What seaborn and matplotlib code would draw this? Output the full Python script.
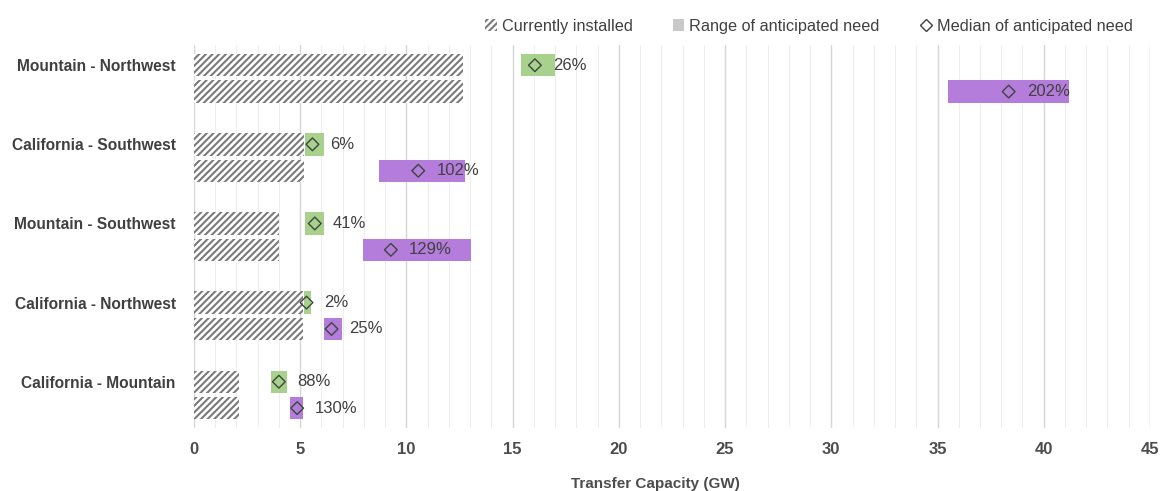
import numpy as np
import pandas as pd
import matplotlib
matplotlib.use('Agg')
import matplotlib.pyplot as plt
from matplotlib.patches import Patch
from matplotlib.lines import Line2D
import seaborn as sns


regions = [
	'Mountain - Northwest',
	'California - Southwest',
	'Mountain - Southwest',
	'California - Northwest',
	'California - Mountain',
]
installed = [12.66, 5.2, 4.0, 5.15, 2.12]

# first scenario (green) and second scenario (purple) of anticipated need
green_low = [15.4, 5.22, 5.24, 5.18, 3.61]
green_high = [17.0, 6.12, 6.12, 5.49, 4.39]
green_median = [16.05, 5.58, 5.69, 5.3, 4.0]
green_pct = ['26%', '6%', '41%', '2%', '88%']

purple_low = [35.5, 8.7, 7.97, 6.13, 4.52]
purple_high = [41.2, 12.78, 13.03, 6.95, 5.15]
purple_median = [38.35, 10.56, 9.27, 6.48, 4.86]
purple_pct = ['202%', '102%', '129%', '25%', '130%']

xticks = [0, 5, 10, 15, 20, 25, 30, 35, 40, 45]


sns.set_style('white')
plt.rcParams['font.family'] = ['Liberation Sans', 'DejaVu Sans']
plt.rcParams['hatch.linewidth'] = 1.5

GREEN = '#a9d18e'
PURPLE = '#b57ddb'
HATCH = '#7a7a7a'
TEXT = '#404040'

# row positions: each region gets two rows, groups spaced 3 apart
top_rows = [3 * i for i in range(len(regions))]
bot_rows = [3 * i + 1 for i in range(len(regions))]

bars = pd.DataFrame({
	'row': top_rows + bot_rows,
	'installed': installed + installed,
})
need = pd.DataFrame({
	'row': top_rows + bot_rows,
	'low': green_low + purple_low,
	'high': green_high + purple_high,
	'median': green_median + purple_median,
	'pct': green_pct + purple_pct,
	'color': [GREEN] * len(regions) + [PURPLE] * len(regions),
})


fig = plt.figure(figsize=(11.61, 4.91), dpi=100)
ax = fig.add_axes([0.167, 0.128, 0.8235, 0.78])

sns.barplot(
	data=bars,
	x='installed',
	y='row',
	orient='y',
	native_scale=True,
	width=0.85,
	errorbar=None,
	color='white',
	edgecolor=HATCH,
	linewidth=0,
	hatch='/////',
	ax=ax,
)

ax.barh(
	need['row'],
	need['high'] - need['low'],
	left=need['low'],
	height=0.85,
	color=need['color'],
	linewidth=0,
	zorder=2,
)

sns.scatterplot(
	data=need,
	x='median',
	y='row',
	marker='D',
	s=42,
	facecolor='none',
	edgecolor='#3d453d',
	linewidth=1.0,
	zorder=4,
	ax=ax,
)

for _, r in need.iterrows():
	ax.annotate(
		r['pct'],
		(r['median'], r['row']),
		xytext=(13, 0),
		textcoords='offset points',
		ha='left',
		va='center',
		fontsize=12,
		color=TEXT,
		zorder=5,
	)

ax.set_xlim(0, 45)
ax.set_ylim(13.76, -0.76)
ax.set_xticks(xticks)
ax.set_xticks(range(0, 46), minor=True)
ax.set_yticks(top_rows)
ax.set_yticklabels(regions, fontsize=11.2, fontweight='bold', color=TEXT)
ax.tick_params(axis='x', labelsize=12, colors='#4d4d4d', length=0, pad=10)
ax.tick_params(axis='y', length=0, pad=13)
for lab in ax.get_xticklabels():
	lab.set_fontweight('bold')
ax.grid(False)
ax.grid(which='major', axis='x', color='#d6d6d6', linewidth=1.0, zorder=0)
ax.grid(which='minor', axis='x', color='#eeeeee', linewidth=0.8, zorder=0)
ax.set_axisbelow(True)
for s in ax.spines.values():
	s.set_visible(False)

ax.set_ylabel('')
ax.set_xlabel(
	'Transfer Capacity (GW)',
	fontsize=11,
	fontweight='bold',
	color='#4d4d4d',
)
ax.xaxis.set_label_coords(0.483, -0.128)
ax.xaxis.label.set_va('top')

legend_elements = [
	Patch(facecolor='white', edgecolor=HATCH, hatch='/////', linewidth=0,
		label='Currently installed'),
	Patch(facecolor='#c9c9c9', linewidth=0, label='Range of anticipated need'),
	Line2D([0], [0], marker='D', ms=6.5, mfc='none', mec=TEXT, mew=1.0,
		ls='None', label='Median of anticipated need'),
]
fig.legend(
	handles=legend_elements,
	loc='upper right',
	bbox_to_anchor=(0.988, 0.992),
	ncol=3,
	frameon=False,
	fontsize=11.7,
	handlelength=0.7,
	handleheight=0.7,
	handletextpad=0.3,
	columnspacing=2.5,
	labelcolor=TEXT,
)

fig.savefig('out.png', dpi=100)
